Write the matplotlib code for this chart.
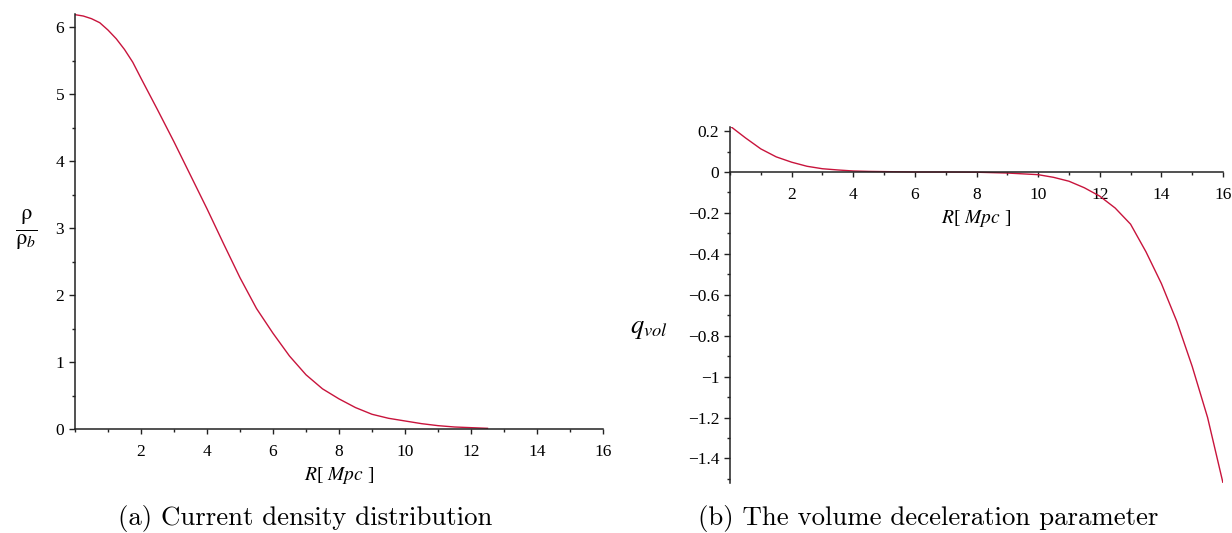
import matplotlib
matplotlib.use("Agg")
import matplotlib.pyplot as plt
from matplotlib.ticker import MultipleLocator, FixedLocator, FixedFormatter

plt.rcParams['mathtext.fontset'] = 'stix'
plt.rcParams['font.family'] = ['Liberation Serif', 'DejaVu Serif']

# ---- data ----
R_density = [0, 0.25, 0.5, 0.75, 1, 1.25, 1.5, 1.75, 2, 2.5, 3, 3.5, 4, 4.5,
             5, 5.5, 6, 6.5, 7, 7.5, 8, 8.5, 9, 9.5, 10, 10.5, 11, 11.5, 12, 12.5]
rho_ratio = [6.19, 6.17, 6.13, 6.07, 5.96, 5.83, 5.67, 5.48, 5.24, 4.77, 4.29,
             3.79, 3.29, 2.77, 2.26, 1.80, 1.43, 1.09, 0.81, 0.60, 0.45, 0.32,
             0.22, 0.16, 0.12, 0.08, 0.05, 0.03, 0.02, 0.01]

R_q = [0, 0.5, 1, 1.5, 2, 2.5, 3, 3.5, 4, 4.5, 5, 6, 7, 8, 9, 10, 10.5, 11,
       11.5, 12, 12.5, 13, 13.5, 14, 14.5, 15, 15.5, 15.75, 16]
q_vol = [0.225, 0.167, 0.113, 0.074, 0.048, 0.028, 0.016, 0.010, 0.005, 0.003,
         0.002, 0.0, 0.0, -0.001, -0.005, -0.013, -0.026, -0.045, -0.077,
         -0.118, -0.176, -0.255, -0.39, -0.545, -0.73, -0.95, -1.20, -1.36, -1.52]

x_major = [2, 4, 6, 8, 10, 12, 14, 16]
x_labels = ['2', '4', '6', '8', '10', '12', '14', '16']
left_y_major = [0, 1, 2, 3, 4, 5, 6]
left_y_labels = ['0', '1', '2', '3', '4', '5', '6']
right_y_major = [0.2, 0, -0.2, -0.4, -0.6, -0.8, -1.0, -1.2, -1.4]
right_y_labels = ['0.2', '0', '\u22120.2', '\u22120.4', '\u22120.6', '\u22120.8',
                  '\u22121', '\u22121.2', '\u22121.4']

caption_a = '(a) Current density distribution'
caption_b = '(b) The volume deceleration parameter'

W, H = 1232, 533
fig = plt.figure(figsize=(W / 100, H / 100), dpi=100)

line_color = '#c8143c'
spine_color = '#222222'


def px_axes(x0, x1, ytop, ybot):
    return fig.add_axes([x0 / W, 1 - ybot / H, (x1 - x0) / W, (ybot - ytop) / H])


def style(ax):
    for s in ['top', 'right']:
        ax.spines[s].set_visible(False)
    for s in ['left', 'bottom']:
        ax.spines[s].set_color(spine_color)
        ax.spines[s].set_linewidth(1.1)
    ax.tick_params(axis='x', which='major', direction='out', length=3.5, width=1,
                   pad=7, labelsize=12.5, color=spine_color)
    ax.tick_params(axis='x', which='minor', direction='out', length=2.5, width=1,
                   color=spine_color)
    ax.tick_params(axis='y', which='major', direction='out', length=4.3, width=1,
                   pad=3.5, labelsize=12.5, color=spine_color)
    ax.tick_params(axis='y', which='minor', direction='out', length=2.2, width=1,
                   color=spine_color)
    ax.xaxis.set_major_locator(FixedLocator(x_major))
    ax.xaxis.set_major_formatter(FixedFormatter(x_labels))
    ax.xaxis.set_minor_locator(MultipleLocator(1))
    ax.set_xlim(0, 16)


# ---- left panel ----
ax1 = px_axes(75, 603, 14, 429)
style(ax1)
ax1.plot(R_density, rho_ratio, color=line_color, lw=1.0)
ax1.set_ylim(0, 6.2)
ax1.yaxis.set_major_locator(FixedLocator(left_y_major))
ax1.yaxis.set_major_formatter(FixedFormatter(left_y_labels))
ax1.yaxis.set_minor_locator(MultipleLocator(0.5))
ax1.set_xlabel(r'$R$[ $Mpc$ ]', fontsize=14, labelpad=4)
ax1.text(-0.093, 0.48, r'$\frac{\mathrm{\rho}}{\mathrm{\rho}_{b}}$',
         transform=ax1.transAxes, fontsize=23, ha='center', va='center')

# ---- right panel ----
ax2 = px_axes(730, 1223, 127, 483)
style(ax2)
ax2.spines['bottom'].set_position(('data', 0))
ax2.plot(R_q, q_vol, color=line_color, lw=1.0)
ax2.set_ylim(-1.52, 0.22)
ax2.yaxis.set_major_locator(FixedLocator(right_y_major))
ax2.yaxis.set_major_formatter(FixedFormatter(right_y_labels))
ax2.yaxis.set_minor_locator(MultipleLocator(0.1))
ax2.text(0.5, 0.744, r'$R$[ $Mpc$ ]', transform=ax2.transAxes, fontsize=14,
         ha='center', va='center')
ax2.text(-0.165, 0.43, r'$q_{vol}$', transform=ax2.transAxes, fontsize=19,
         ha='center', va='center')

# ---- captions ----
fig.text(305 / W, 1 - 519 / H, caption_a, fontfamily='cmr10', fontsize=19.3,
         ha='center', va='center')
fig.text(928 / W, 1 - 519 / H, caption_b, fontfamily='cmr10', fontsize=19.3,
         ha='center', va='center')

fig.savefig('out.png', dpi=100)
